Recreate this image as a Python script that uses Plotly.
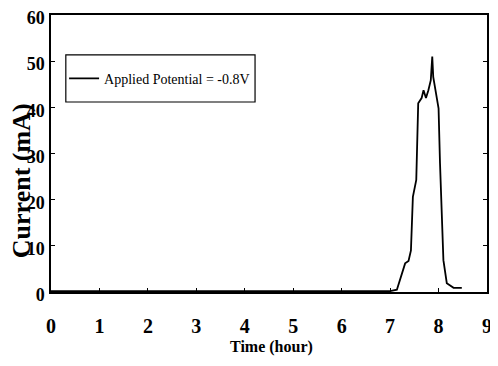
import plotly.graph_objects as go

time_hr = [0, 1, 2, 3, 4, 5, 6, 7.0, 7.14, 7.31, 7.38, 7.43, 7.47, 7.54, 7.58, 7.65, 7.69,
           7.74, 7.79, 7.84, 7.87, 7.89, 8.0, 8.03, 8.1, 8.17, 8.31, 8.48]
current_ma = [0.2, 0.2, 0.2, 0.2, 0.2, 0.2, 0.2, 0.2, 0.5, 6.2, 6.7, 9.0, 20.6, 24.3, 40.9, 42.0, 43.7,
              42.0, 43.7, 45.9, 51.0, 46.6, 39.8, 27.9, 6.9, 1.9, 0.9, 0.9]
x_ticks = [0, 1, 2, 3, 4, 5, 6, 7, 8, 9]
y_ticks = [0, 10, 20, 30, 40, 50, 60]
series_name = "Applied Potential = -0.8V"
x_title = "Time (hour)"
y_title = "Current (mA)"

FONT = "Liberation Serif"

fig = go.Figure()
fig.add_trace(go.Scatter(x=time_hr, y=current_ma, mode="lines", name=series_name,
                         line=dict(color="black", width=1.8), showlegend=True))

fig.update_layout(
    width=498, height=366,
    margin=dict(l=43, r=19, t=7, b=82),
    paper_bgcolor="white", plot_bgcolor="white",
    font=dict(family=FONT, color="black", size=15),
    showlegend=True,
    legend=dict(x=0.03, y=0.77, xanchor="left", yanchor="middle",
                bgcolor="rgba(0,0,0,0)", borderwidth=0,
                font=dict(family=FONT, size=14, color="black"),
                itemwidth=30, tracegroupgap=0),
    shapes=[dict(type="rect", xref="paper", yref="paper", x0=0.034, x1=0.468, y0=0.686, y1=0.856,
                 line=dict(color="black", width=1.2), fillcolor="rgba(0,0,0,0)")],
    annotations=[
        dict(text="<b>" + y_title + "</b>", xref="paper", yref="paper", x=-0.0688, y=0.40,
             xanchor="center", yanchor="middle", textangle=-90, showarrow=False,
             font=dict(family=FONT, size=26, color="black")),
        dict(text="<b>" + x_title + "</b>", xref="paper", yref="paper", x=0.505, y=-0.199,
             xanchor="center", yanchor="middle", showarrow=False,
             font=dict(family=FONT, size=16, color="black")),
    ],
    xaxis=dict(range=[0, 9], tickvals=x_ticks, ticks="inside", ticklen=4, tickcolor="black",
               showline=True, linecolor="black", linewidth=1.5, mirror=True, showgrid=False,
               zeroline=False, ticklabelstandoff=15, automargin=False, ticklabeloverflow="allow",
               tickfont=dict(family=FONT, size=20, color="black", weight="bold")),
    yaxis=dict(range=[0, 60], tickvals=y_ticks, ticks="inside", ticklen=4, tickcolor="black",
               showline=True, linecolor="black", linewidth=1.5, mirror="allticks", showgrid=False,
               zeroline=False, ticklabelstandoff=1, ticklabelshift=3, automargin=False,
               ticklabeloverflow="allow",
               tickfont=dict(family=FONT, size=18, color="black", weight="bold")),
)

fig.write_html("out.html")
